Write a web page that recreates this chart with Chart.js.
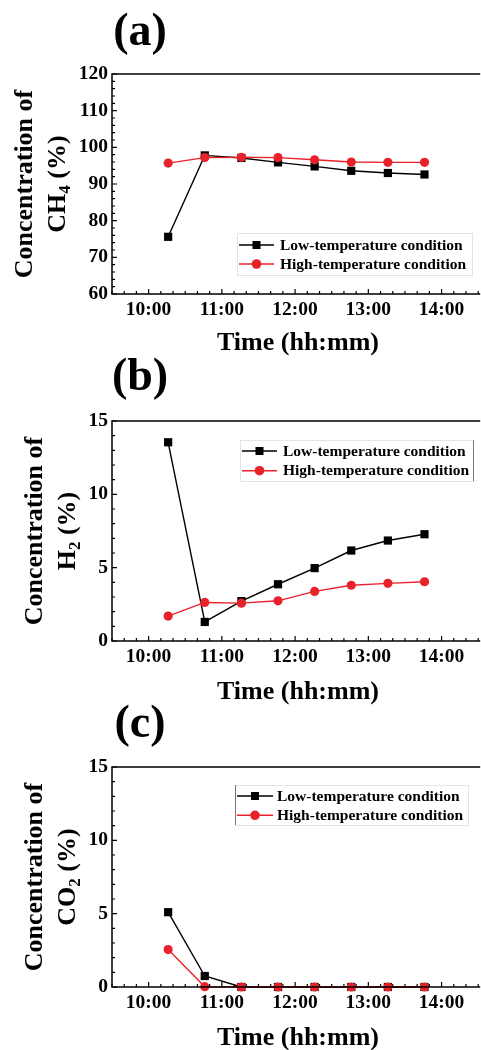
<!DOCTYPE html>
<html><head><meta charset="utf-8">
<script src="https://cdn.jsdelivr.net/npm/chart.js@4.4.1/dist/chart.umd.min.js"></script>
<style>
html,body{margin:0;padding:0;background:#fff;overflow:hidden;width:481px;height:1050px;}
body{position:relative;}
.p{position:absolute;left:0;width:484px;height:365px;}
</style></head><body>
<div class="p" style="top:0px"><canvas id="ca"></canvas></div>
<div class="p" style="top:347px"><canvas id="cb"></canvas></div>
<div class="p" style="top:693px"><canvas id="cc"></canvas></div>
<script>
// ---- data ----
const times = ["10:16","10:46","11:16","11:46","12:16","12:46","13:16","13:46"];
const ch4Low  = [75.6, 97.8, 97.1, 95.9, 94.8, 93.6, 93.0, 92.6];
const ch4High = [95.7, 97.2, 97.3, 97.2, 96.6, 96.0, 95.9, 95.9];
const h2Low   = [13.55, 1.3, 2.72, 3.87, 4.97, 6.17, 6.85, 7.28];
const h2High  = [1.7, 2.63, 2.58, 2.74, 3.38, 3.8, 3.93, 4.04];
const co2Low  = [5.1, 0.75, 0, 0, 0, 0, 0, 0];
const co2High = [2.55, 0.02, 0, 0, 0, 0, 0, 0];
const xTickLabels = ["10:00","11:00","12:00","13:00","14:00"];
const ch4Ticks = [60, 70, 80, 90, 100, 110, 120];
const h2Ticks = [0, 5, 10, 15];
const co2Ticks = [0, 5, 10, 15];
const seriesNames = ["Low-temperature condition","High-temperature condition"];
const panelLabels = ["(a)","(b)","(c)"];
const xTitle = "Time (hh:mm)";
const yTitleLine1 = "Concentration of";
const gases = [["CH","4"],["H","2"],["CO","2"]];

const RED = '#e8222a';
const FONT = "'Liberation Serif','Times New Roman',serif";
function toMin(t){const [h,m]=t.split(':').map(Number);return h*60+m;}
function toXY(arr){return arr.map((v,i)=>({x:toMin(times[i]),y:v}));}

const xMajor = xTickLabels.map(toMin);
const xMin = xMajor[0]-30, xMax = xMajor[xMajor.length-1]+30;

function decoPlugin(o){
  return {
    id:'deco',
    afterDatasetsDraw(chart){
      const ctx=chart.ctx, a=chart.chartArea, xs=chart.scales.x, ys=chart.scales.y;
      ctx.save();
      ctx.strokeStyle='#000'; ctx.lineWidth=1.5;
      ctx.beginPath();
      ctx.moveTo(a.right+2,a.top); ctx.lineTo(a.left,a.top); ctx.lineTo(a.left,a.bottom); ctx.lineTo(a.right+2,a.bottom);
      ctx.stroke();
      ctx.lineWidth=1.2;
      ctx.beginPath();
      for(let v=xMin; v<=xMax; v+=10){
        const px=xs.getPixelForValue(v);
        const L = xMajor.includes(v)?5:3;
        ctx.moveTo(px,a.bottom); ctx.lineTo(px,a.bottom-L);
      }
      const yt=o.yTicks, step=o.minorStep;
      for(let v=yt[0]; v<=yt[yt.length-1]+1e-9; v+=step){
        const py=ys.getPixelForValue(v);
        const L = yt.some(t=>Math.abs(t-v)<1e-6)?5:3;
        ctx.moveTo(a.left,py); ctx.lineTo(a.left+L,py);
      }
      ctx.stroke();
      ctx.restore();
    },
    afterDraw(chart){
      const ctx=chart.ctx, a=chart.chartArea;
      ctx.save();
      ctx.fillStyle='#000';
      ctx.font='bold 46px '+FONT; ctx.textAlign='center'; ctx.textBaseline='alphabetic';
      ctx.fillText(o.label, 140, o.labelY);
      ctx.font='bold 26px '+FONT;
      ctx.fillText(xTitle, 298, o.xTitleY);
      const cy=(a.top+a.bottom)/2;
      ctx.save();
      ctx.translate(o.yTitleX, cy); ctx.rotate(-Math.PI/2);
      ctx.font='bold 26px '+FONT; ctx.textAlign='center';
      ctx.fillText(yTitleLine1, 0, 0);
      ctx.restore();
      ctx.save();
      ctx.translate(o.yTitleX+33, cy); ctx.rotate(-Math.PI/2);
      ctx.textAlign='left';
      const g=o.gas;
      ctx.font='bold 26px '+FONT; const w1=ctx.measureText(g[0]).width;
      ctx.font='bold 17px '+FONT; const w2=ctx.measureText(g[1]).width;
      ctx.font='bold 26px '+FONT; const w3=ctx.measureText(' (%)').width;
      let x0=-(w1+w2+w3)/2;
      ctx.fillText(g[0], x0, 0); x0+=w1;
      ctx.font='bold 17px '+FONT; ctx.fillText(g[1], x0, 5); x0+=w2;
      ctx.font='bold 26px '+FONT; ctx.fillText(' (%)', x0, 0);
      ctx.restore();
      const L=o.legend;
      ctx.strokeStyle='#e4e4e4'; ctx.lineWidth=1;
      ctx.strokeRect(L.box[0]+0.5,L.box[1]+0.5,L.box[2]-L.box[0],L.box[3]-L.box[1]);
      if(L.side){
        ctx.strokeStyle='#777'; ctx.lineWidth=1;
        const sx = L.side==='right'?L.box[2]+0.5:L.box[0]+0.5;
        ctx.beginPath(); ctx.moveTo(sx,L.box[1]); ctx.lineTo(sx,L.box[3]); ctx.stroke();
      }
      const cols=['#000',RED];
      for(let i=0;i<2;i++){
        const y=L.rows[i];
        ctx.strokeStyle=cols[i]; ctx.fillStyle=cols[i]; ctx.lineWidth=1.5;
        ctx.beginPath(); ctx.moveTo(L.line[0],y); ctx.lineTo(L.line[1],y); ctx.stroke();
        const mx=(L.line[0]+L.line[1])/2;
        if(i===0){ ctx.fillRect(mx-4,y-4,8,8); }
        else { ctx.beginPath(); ctx.arc(mx,y,4.8,0,Math.PI*2); ctx.fill(); }
        ctx.fillStyle='#000';
        ctx.font='bold 15.5px '+FONT; ctx.textAlign='left'; ctx.textBaseline='middle';
        ctx.fillText(seriesNames[i], L.textX, y+0.5);
      }
      ctx.restore();
    }
  };
}

function makeChart(id, low, high, yTicks, deco){
  const tickFont={family:FONT, size:19.5, weight:'bold'};
  return new Chart(document.getElementById(id), {
    type:'line',
    data:{datasets:[
      {label:seriesNames[0], data:toXY(low), borderColor:'#000', backgroundColor:'#000',
       pointStyle:'rect', pointRadius:5.8, pointBorderWidth:0, borderWidth:1.4, order:2, clip:false},
      {label:seriesNames[1], data:toXY(high), borderColor:RED, backgroundColor:RED,
       pointStyle:'circle', pointRadius:4.6, pointBorderWidth:0, borderWidth:1.4, order:1, clip:false}
    ]},
    options:{
      responsive:true, maintainAspectRatio:false, animation:false,
      layout:{padding:{top:74,left:0,right:0,bottom:0}},
      plugins:{legend:{display:false}, tooltip:{enabled:false}},
      scales:{
        x:{type:'linear', min:xMin, max:xMax,
           grid:{display:false, drawTicks:false}, border:{display:false},
           afterBuildTicks(s){ s.ticks = xMajor.map(v=>({value:v})); },
           afterFit(s){ s.height = 71; },
           ticks:{font:tickFont, color:'#000', padding:4, maxRotation:0, autoSkip:false,
             callback(v){ const i=xMajor.indexOf(v); return i>=0?xTickLabels[i]:''; }}},
        y:{type:'linear', min:yTicks[0], max:yTicks[yTicks.length-1],
           grid:{display:false, drawTicks:false}, border:{display:false},
           afterBuildTicks(s){ s.ticks = yTicks.map(v=>({value:v})); },
           afterFit(s){ s.width = 112; },
           ticks:{font:tickFont, color:'#000', padding:4, autoSkip:false}}
      }
    },
    plugins:[decoPlugin(deco)]
  });
}

makeChart('ca', ch4Low, ch4High, ch4Ticks, {
  label:panelLabels[0], labelY:45, xTitleY:350, yTitleX:32, gas:gases[0], yTicks:ch4Ticks, minorStep:2,
  legend:{box:[237,233,472,275], rows:[245,264], line:[239,274], textX:280}
});
makeChart('cb', h2Low, h2High, h2Ticks, {
  label:panelLabels[1], labelY:43, xTitleY:352, yTitleX:42, gas:gases[1], yTicks:h2Ticks, minorStep:1,
  legend:{box:[240,93,473,134], rows:[104,123.7], line:[242,277], textX:283, side:'right'}
});
makeChart('cc', co2Low, co2High, co2Ticks, {
  label:panelLabels[2], labelY:44, xTitleY:352, yTitleX:42, gas:gases[2], yTicks:co2Ticks, minorStep:1,
  legend:{box:[235,92,468,132], rows:[103,122.3], line:[237,273], textX:277, side:'left'}
});
</script>
</body></html>
